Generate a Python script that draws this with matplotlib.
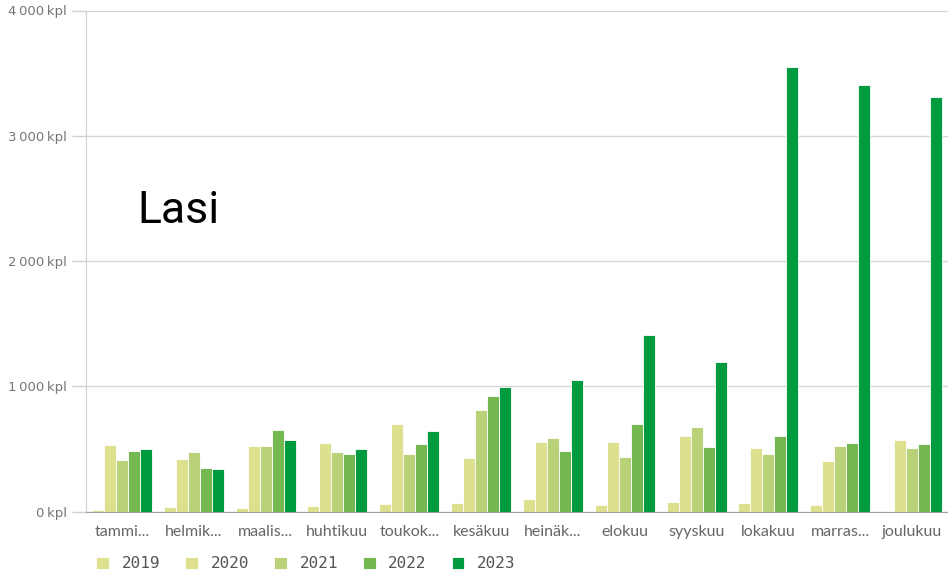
import matplotlib.pyplot as plt
import numpy as np

months = ['tammi...', 'helmik...', 'maalis...', 'huhtikuu', 'toukok...', 'kesäkuu',
          'heinäk...', 'elokuu', 'syyskuu', 'lokakuu', 'marras...', 'joulukuu']
years = ['2019', '2020', '2021', '2022', '2023']
v2019 = [12, 33, 25, 41, 57, 65, 97, 52, 73, 71, 52, 4]
v2020 = [528, 421, 523, 544, 698, 429, 552, 555, 600, 509, 400, 573]
v2021 = [409, 472, 523, 477, 456, 810, 589, 432, 672, 456, 525, 503]
v2022 = [480, 350, 650, 461, 539, 924, 483, 698, 517, 600, 547, 536]
v2023 = [496, 339, 573, 496, 645, 994, 1047, 1406, 1193, 3550, 3404, 3310]
yticks = [0, 1000, 2000, 3000, 4000]
ylabels = ['0\u2009kpl', '1\u2009000\u2009kpl', '2\u2009000\u2009kpl',
           '3\u2009000\u2009kpl', '4\u2009000\u2009kpl']

colors = ['#dde08f', '#dde08f', '#b9d27a', '#74b84f', '#009b3f']
series = [v2019, v2020, v2021, v2022, v2023]

fig = plt.figure(figsize=(9.48, 5.73), dpi=100)
ax = fig.add_axes([86 / 948, 61.5 / 573, 1 - 86 / 948, 501 / 573])

x = np.arange(len(months))
step = 0.167
for i, vals in enumerate(series):
    ax.bar(x + (i - 2) * step, vals, width=step, color=colors[i],
           edgecolor='white', linewidth=0.6, label=years[i], zorder=3)

ax.set_xlim(-0.5, len(months) - 0.5)
ax.set_ylim(0, 4000)
ax.set_yticks(yticks)
ax.set_yticklabels(ylabels, family='DejaVu Sans', fontsize=9.5, color='#777777')
ax.set_xticks(x)
ax.set_xticklabels(months, family='Lato', fontsize=11.5, color='#666666')
ax.tick_params(axis='x', length=0, pad=10)
ax.tick_params(axis='y', length=10, width=1, color='#d0d0d0', pad=4)
ax.grid(axis='y', color='#d6d6d6', linewidth=1, zorder=0)
for s in ['top', 'right']:
    ax.spines[s].set_visible(False)
ax.spines['left'].set_color('#d0d0d0')
ax.spines['bottom'].set_color('#a0a0a0')
ax.spines['bottom'].set_zorder(4)

ax.text(137 / 948, 1 - 223 / 573, 'Lasi', transform=fig.transFigure,
        family='Roboto', fontsize=32, color='black', va='baseline')

fig.legend(loc='lower left', bbox_to_anchor=(82 / 948, -0.022), ncol=5, frameon=False,
           prop={'family': 'DejaVu Sans Mono', 'size': 11.5}, labelcolor='#555555',
           handlelength=0.8, handleheight=0.8, handletextpad=0.8, columnspacing=1.55)

plt.savefig('out.png', dpi=100)
